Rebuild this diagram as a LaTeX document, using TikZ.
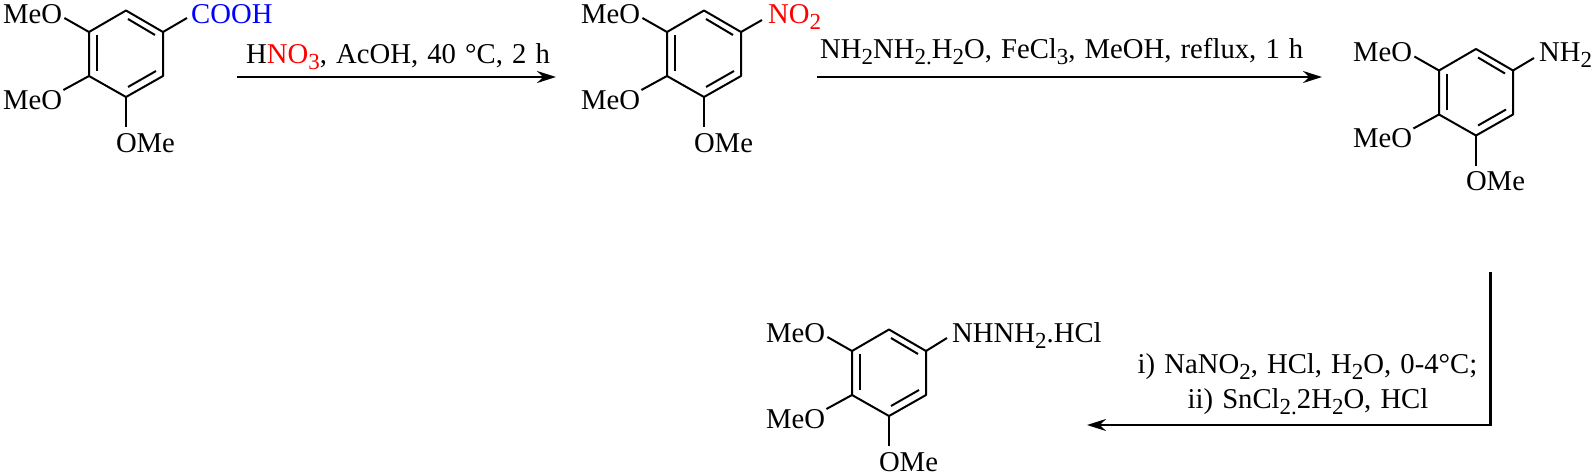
\documentclass[tikz,border=0pt]{standalone}
\usepackage{fontspec}
\setmainfont[WordSpace=1.27]{Liberation Serif}
\usetikzlibrary{arrows.meta}
\newcommand{\subs}[1]{\raisebox{-6pt}{\fontsize{23}{23}\selectfont #1}}
\tikzset{
  bond/.style={line width=2pt},
  rxn/.style={line width=2.2pt,-{Stealth[length=19pt,width=12pt]}},
  chem/.style={inner sep=0pt,font=\fontsize{28.7}{33}\selectfont},
  % one ring with its three MeO groups
  pics/arene/.style={code={
    \coordinate (-top) at (126,10.5);
    \coordinate (-ur) at (163,32);
    \coordinate (-lr) at (163,76);
    \coordinate (-bot) at (126,97);
    \coordinate (-ll) at (89,76);
    \coordinate (-ul) at (89,32);
    \coordinate (-a1) at (128,19);
    \coordinate (-a2) at (155,35);
    \coordinate (-b1) at (97,35);
    \coordinate (-b2) at (97,71);
    \coordinate (-c1) at (128,87);
    \coordinate (-c2) at (156,71);
    \node[chem,anchor=base west] (-meoa) at (3,23) {MeO};
    \node[chem,anchor=base west] (-meob) at (3,109) {MeO};
    \node[chem,anchor=base] (-ome) at (145.5,152) {OMe};
    \draw[bond,line join=round] (-top) -- (-ur) -- (-lr) -- (-bot) -- (-ll) -- (-ul) -- cycle;
    \draw[bond] (-a1) -- (-a2);
    \draw[bond] (-b1) -- (-b2);
    \draw[bond] (-c1) -- (-c2);
    \draw[bond] (-ul) -- ([xshift=2pt,yshift=5pt]-meoa.base east);
    \draw[bond] (-ll) -- ([xshift=1pt,yshift=19pt]-meob.base east);
    \draw[bond] (-bot) -- ([xshift=-19.5pt,yshift=25pt]-ome.base);
  }}
}
\begin{document}
\begin{tikzpicture}[x=1pt,y=-1pt]
	\useasboundingbox (0,0) rectangle (1595,474);
	% compounds
	\pic (acid) at (0,0) {arene};
	\pic (nitro) at (578,0) {arene};
	\pic (amine) at (1350,38.5) {arene};
	\pic (hydra) at (763,319) {arene};
	\node[chem,anchor=base west,text=blue] (cooh) at (191,23) {COOH};
	\node[chem,anchor=base west,text=red] (no) at (768,23) {NO\subs{2}};
	\node[chem,anchor=base west] (nh) at (1539,61) {NH\subs{2}};
	\node[chem,anchor=base west] (nhnh) at (952,342) {NHNH\subs{2}.HCl};
	\draw[bond] (acid-ur) -- ([xshift=-4pt,yshift=5pt]cooh.base west);
	\draw[bond] (nitro-ur) -- ([xshift=-6pt,yshift=3pt]no.base west);
	\draw[bond] (amine-ur) -- ([xshift=-5pt,yshift=3pt]nh.base west);
	\draw[bond] (hydra-ur) -- ([xshift=-5pt,yshift=4pt]nhnh.base west);
	% arrows
	\coordinate (a1s) at (237,77);
	\coordinate (a1e) at (556,77);
	\coordinate (a2s) at (817,77);
	\coordinate (a2e) at (1322,77);
	\coordinate (a3s) at (1490.5,272);
	\coordinate (a3c) at (1490.5,425);
	\coordinate (a3e) at (1087,425);
	\draw[rxn] (a1s) -- (a1e);
	\draw[rxn] (a2s) -- (a2e);
	\draw[rxn] (a3s) -- (a3c) -- (a3e);
	\node[chem,anchor=base west] (hno) at (246,63) {H\textcolor{red}{NO\subs{3}}, AcOH, 40 °C, 2 h};
	\node[chem,anchor=base west] (red) at (820,58) {NH\subs{2}NH\subs{2.}H\subs{2}O, FeCl\subs{3}, MeOH, reflux, 1 h};
	\node[chem,anchor=base] (diaa) at (1307.5,373) {i) NaNO\subs{2}, HCl, H\subs{2}O, 0-4°C;};
	\node[chem,anchor=base] (diab) at (1308,408) {ii) SnCl\subs{2.}2H\subs{2}O, HCl};
\end{tikzpicture}
\end{document}
